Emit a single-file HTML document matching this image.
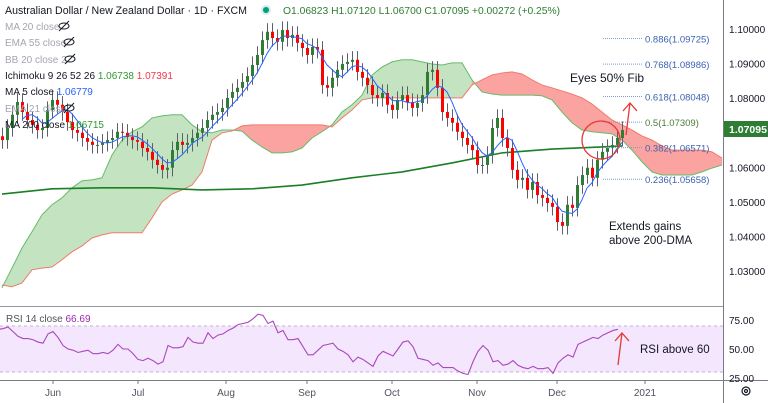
<!DOCTYPE html>
<html><head><meta charset="utf-8"><style>
body{margin:0;width:768px;height:403px;overflow:hidden;background:#fff;font-family:"Liberation Sans",sans-serif}
svg{display:block}
</style></head><body>
<svg id="c" width="768" height="403" xmlns="http://www.w3.org/2000/svg">
<rect x="0" y="0" width="768" height="403" fill="#fff"/>
<g id="cloud"></g>
<g id="ma200"></g>
<g id="candles"></g>
<g id="ma5"></g>
<g id="fib" font-size="9.5"></g>
<text x="570" y="82" font-size="12" fill="#131722">Eyes 50% Fib</text>
<text x="609" y="230" font-size="11.5" fill="#131722">Extends gains</text>
<text x="609" y="244" font-size="11.5" fill="#131722">above 200-DMA</text>
<ellipse cx="601" cy="140" rx="19" ry="19" fill="none" stroke="#e53935" stroke-width="1.3"/>
<g stroke="#e53935" stroke-width="1.3" fill="none"><path d="M626 135 L630 103"/><path d="M623 111 L630 103 L637 111"/></g>
<line x1="0" y1="306.5" x2="723" y2="306.5" stroke="#9598a1"/>
<line x1="723.5" y1="0" x2="723.5" y2="403" stroke="#787b86"/>
<line x1="0" y1="380.5" x2="768" y2="380.5" stroke="#787b86"/>
<rect x="0" y="326" width="723" height="46" fill="#f3e6fd"/>
<line x1="0" y1="326" x2="723" y2="326" stroke="#c4b0d4" stroke-dasharray="3,3"/>
<line x1="0" y1="372" x2="723" y2="372" stroke="#c4b0d4" stroke-dasharray="3,3"/>
<g id="rsi"></g>
<text x="6" y="322" font-size="10" fill="#50535e">RSI 14 close <tspan fill="#9c27b0">66.69</tspan></text>
<g stroke="#e53935" stroke-width="1.3" fill="none"><path d="M618 365 L622 333"/><path d="M615 341 L622 333 L629 341"/></g>
<text x="640" y="353" font-size="11.5" fill="#131722">RSI above 60</text>
<g id="paxis" font-size="10" fill="#131722"></g>
<rect x="724" y="121" width="44" height="16" fill="#2e7d32"/>
<text x="729" y="133" font-size="10.5" fill="#fff" font-weight="bold">1.07095</text>
<g font-size="10" fill="#131722">
<text x="729" y="324">75.00</text><text x="729" y="353">50.00</text><text x="729" y="382">25.00</text></g>
<g id="taxis" font-size="10" fill="#50535e"></g>
<g fill="none" stroke="#131722" stroke-width="1.2"><circle cx="746" cy="391" r="4"/><circle cx="746" cy="391" r="1.5"/></g>
<g font-size="10">
<text x="5" y="14" font-size="10.6" fill="#131722">Australian Dollar / New Zealand Dollar · 1D · FXCM</text>
<circle cx="266" cy="10" r="5" fill="#cfeee9"/><circle cx="266" cy="10" r="3" fill="#089981"/>
<text x="283" y="14" font-size="10.3" fill="#2e7d32">O1.06823 H1.07120 L1.06700 C1.07095 +0.00272 (+0.25%)</text>
<text x="5" y="30" fill="#a3a6af">MA 20 close</text>
<text x="5" y="46" fill="#a3a6af">EMA 55 close</text>
<text x="5" y="63" fill="#a3a6af">BB 20 close 2</text>
<text x="5" y="79" fill="#131722">Ichimoku 9 26 52 26 <tspan fill="#2e9a2e">1.06738</tspan> <tspan fill="#f23645">1.07391</tspan></text>
<text x="5" y="95" fill="#131722">MA 5 close <tspan fill="#2962ff">1.06779</tspan></text>
<text x="5" y="112" fill="#a3a6af">EMA 21 close</text>
<text x="5" y="128" fill="#131722">MA 200 close <tspan fill="#2e9a2e">1.06715</tspan></text>
<g stroke="#131722" fill="none" stroke-width="1">
<ellipse cx="64" cy="26" rx="5" ry="3"/><path d="M59 31 L69 21"/>
<ellipse cx="69" cy="42" rx="5" ry="3"/><path d="M64 47 L74 37"/>
<ellipse cx="70" cy="59" rx="5" ry="3"/><path d="M65 64 L75 54"/>
<ellipse cx="69" cy="108" rx="5" ry="3"/><path d="M64 113 L74 103"/>
</g>
</g>
</svg>
<script>
const closes=[1.0679,1.0714,1.0752,1.0789,1.0760,1.0737,1.0723,1.0708,1.0714,1.0766,1.0795,1.0781,1.0760,1.0731,1.0708,1.0700,1.0685,1.0674,1.0665,1.0665,1.0671,1.0679,1.0685,1.0703,1.0700,1.0688,1.0679,1.0674,1.0656,1.0645,1.0622,1.0607,1.0593,1.0599,1.0650,1.0674,1.0665,1.0671,1.0685,1.0700,1.0714,1.0737,1.0752,1.0760,1.0772,1.0801,1.0818,1.0830,1.0847,1.0864,1.0896,1.0925,1.0968,1.0992,1.0974,1.0963,1.0997,1.0974,1.0983,1.0960,1.0945,1.0925,1.0948,1.0940,1.0838,1.0830,1.0859,1.0882,1.0899,1.0905,1.0911,1.0876,1.0859,1.0838,1.0809,1.0801,1.0815,1.0781,1.0766,1.0795,1.0809,1.0789,1.0772,1.0786,1.0809,1.0876,1.0882,1.0830,1.0760,1.0743,1.0729,1.0703,1.0685,1.0665,1.0650,1.0607,1.0607,1.0636,1.0714,1.0743,1.0685,1.0656,1.0593,1.0564,1.0570,1.0535,1.0558,1.0520,1.0512,1.0497,1.0486,1.0442,1.0431,1.0492,1.0483,1.0549,1.0578,1.0599,1.0570,1.0622,1.0645,1.0656,1.0665,1.0685,1.0708];
const firstOpen=1.0690;
const ma200Idx=[0,10,20,30,40,50,60,70,80,90,100,110,120,124];
const ma200Val=[1.0523,1.0538,1.0541,1.0541,1.0535,1.0538,1.0549,1.0570,1.0587,1.0613,1.0642,1.0653,1.0659,1.0662];
const spanA=[1.0252,1.0309,1.0367,1.0414,1.0463,1.0492,1.0512,1.0541,1.0561,1.0564,1.0570,1.0636,1.0679,1.0703,1.0717,1.0743,1.0749,1.0752,1.0752,1.0723,1.0703,1.0700,1.0708,1.0708,1.0705,1.0679,1.0659,1.0642,1.0642,1.0645,1.0656,1.0685,1.0703,1.0723,1.0760,1.0781,1.0809,1.0867,1.0890,1.0905,1.0911,1.0911,1.0905,1.0899,1.0896,1.0902,1.0902,1.0853,1.0818,1.0812,1.0809,1.0809,1.0809,1.0809,1.0807,1.0795,1.0760,1.0729,1.0708,1.0703,1.0700,1.0697,1.0679,1.0650,1.0616,1.0587,1.0578,1.0578,1.0578,1.0578,1.0587,1.0598,1.0607];
const spanB=[1.0260,1.0255,1.0266,1.0304,1.0309,1.0312,1.0333,1.0356,1.0373,1.0396,1.0405,1.0411,1.0411,1.0411,1.0411,1.0454,1.0500,1.0523,1.0535,1.0549,1.0587,1.0679,1.0700,1.0705,1.0720,1.0723,1.0723,1.0723,1.0723,1.0723,1.0723,1.0723,1.0723,1.0717,1.0743,1.0766,1.0795,1.0801,1.0801,1.0801,1.0801,1.0801,1.0801,1.0801,1.0801,1.0801,1.0801,1.0838,1.0853,1.0867,1.0873,1.0876,1.0870,1.0853,1.0838,1.0830,1.0821,1.0812,1.0801,1.0783,1.0760,1.0737,1.0723,1.0708,1.0691,1.0679,1.0662,1.0650,1.0650,1.0650,1.0650,1.0645,1.0627];
const rsiVals=[67,67.5,69,65,61,59,59,58,56,55,63,65,60,53,50,49,47,48,49,46,46,47,46,49,54,50,50,46,41,40,42,40,37,39,53,51,51,52,60,56,55,55,64,59,62,63,66,68,71,72,73,76,80,79,72,74,64,66,58,58,59,52,45,45,49,53,54,55,50,48,45,39,43,41,38,35,44,48,46,44,50,56,57,52,42,41,40,36,38,34,34,34,31,29,28,39,48,53,49,39,40,36,37,40,36,34,33,35,33,33,34,29,38,42,45,43,54,56,58,60,59,62,64,66,67];
const priceTicks=[1.10,1.09,1.08,1.06,1.05,1.04,1.03];
const monthLabels=["Jun","Jul","Aug","Sep","Oct","Nov","Dec","2021"];
const monthBars=[10.2,27.2,44.8,61,78,95,111,128.6];
const fibLabels=["0.886(1.09725)","0.768(1.08986)","0.618(1.08048)","0.5(1.07309)","0.382(1.06571)","0.236(1.05658)"];
const fibPrices=[1.09725,1.08986,1.08048,1.07309,1.06571,1.05658];

const NS="http://www.w3.org/2000/svg";
const X=i=>2+5*i;
const Y=p=>29+(1.10-p)*3460;
const RY=v=>349-(v-50)*1.16;
function mk(tag,attrs,parent){const e=document.createElementNS(NS,tag);for(const k in attrs)e.setAttribute(k,attrs[k]);parent.appendChild(e);return e;}
const $=id=>document.getElementById(id);

const cg=$('cloud');
for(let k=0;k<spanA.length-1;k++){
  const x1=X(2*k),x2=X(2*k+2);
  const green=(spanA[k]+spanA[k+1])>=(spanB[k]+spanB[k+1]);
  const poly=mk('polygon',{points:`${x1},${Y(spanA[k])} ${x2},${Y(spanA[k+1])} ${x2},${Y(spanB[k+1])} ${x1},${Y(spanB[k])}`,fill:green?'#c3e3c1':'#faa3a0',stroke:green?'#c3e3c1':'#faa3a0','stroke-width':0.5},cg);
  
  
}
const la=mk('polyline',{points:spanA.map((v,k)=>X(2*k)+','+Y(v)).join(' '),fill:'none',stroke:'#66bb6a','stroke-width':1},cg);


const lb=mk('polyline',{points:spanB.map((v,k)=>X(2*k)+','+Y(v)).join(' '),fill:'none',stroke:'#ef7c6c','stroke-width':1},cg);



const m2=mk('polyline',{points:ma200Idx.map((b,k)=>X(b)+','+Y(ma200Val[k])).join(' '),fill:'none',stroke:'#1b7f24','stroke-width':1.6},$('ma200'));



const cdg=$('candles');
closes.forEach((c,i)=>{
  const o=i===0?firstOpen:closes[i-1];
  const up=c>=o, x=X(i);
  const hi=Math.max(o,c)+0.0025, lo=Math.min(o,c)-0.0025;
  const w=mk('line',{x1:x+0.5,x2:x+0.5,y1:Y(hi),y2:Y(lo),stroke:'#5d606b','stroke-width':1},cdg);
  
  
  const top=Y(Math.max(o,c)),h=Math.max(1,Math.abs(Y(o)-Y(c)));
  const b=mk('rect',{x:x-1,y:top,width:3,height:h,fill:up?'#2e7d32':'#f00'},cdg);
  
  
});

const pts=[];
for(let i=4;i<closes.length;i++){let s=0;for(let j=i-4;j<=i;j++)s+=closes[j];pts.push(X(i)+','+Y(s/5));}
const m5=mk('polyline',{points:pts.join(' '),fill:'none',stroke:'#2962ff','stroke-width':1},$('ma5'));



const fg=$('fib');
fibPrices.forEach((p,k)=>{
  const l=mk('line',{x1:603,x2:642,y1:Y(p),y2:Y(p),stroke:'#7e9bd0','stroke-dasharray':'1,1'},fg);
  
  
  const t=mk('text',{x:645,y:Y(p)+4,fill:fibLabels[k].startsWith('0.5(')?'#4a7b3a':'#3a62b0'},fg);
  t.textContent=fibLabels[k];
  
  
});

const rl=mk('polyline',{points:rsiVals.map((v,i)=>(X(i)-4)+','+RY(v)).join(' '),fill:'none',stroke:'#ab47bc','stroke-width':1.1},$('rsi'));



priceTicks.forEach(p=>{
  const t=mk('text',{x:729,y:Y(p)+4},$('paxis'));
  t.textContent=p.toFixed(5);
  
  
});
monthLabels.forEach((m,k)=>{
  const x=X(monthBars[k]);
  const tk=mk('line',{x1:x,x2:x,y1:380,y2:384,stroke:'#787b86'},$('taxis'));
  
  
  const t=mk('text',{x:x,y:396,'text-anchor':'middle'},$('taxis'));
  t.textContent=m;
  
  
});
</script>
</body></html>
